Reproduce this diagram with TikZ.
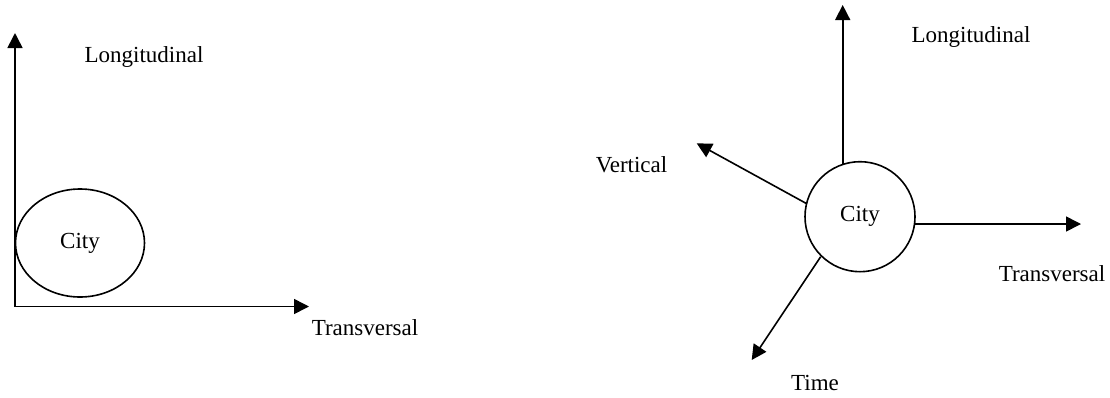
\documentclass[tikz,border=0pt]{standalone}
\usepackage{fontspec}
\setmainfont{Liberation Serif}
\usetikzlibrary{arrows.meta,shapes.geometric}
\begin{document}
\begin{tikzpicture}[x=1pt,y=-1pt,
  axis/.style={line width=1.6pt,-{Triangle[length=15pt,width=15pt]}},
  lbl/.style={inner sep=0pt,font=\fontsize{23}{27}\selectfont},
  city/.style={draw,line width=1.6pt,inner sep=0pt}]
\useasboundingbox (0,0) rectangle (1110,397);
% left diagram
\coordinate (O) at (15,306.5);
\coordinate (Ltop) at (15,33);
\coordinate (Lright) at (309,306.5);
\draw[axis] (O) -- (Ltop);
\draw[axis] (O) -- (Lright);
\node[city,ellipse,minimum width=129pt,minimum height=108pt] (c1) at (80,243) {};
\node[lbl] (t1) at (c1.center) {City};
\node[lbl] (l1) at (144,57) {Longitudinal};
\node[lbl] (tr1) at (365,328) {Transversal};
% right diagram
\node[city,circle,minimum size=110pt] (c2) at (860,216.7) {};
\node[lbl] (t2) at (c2.center) {City};
\coordinate (Rtop) at (842.7,5);
\coordinate (Rright) at (1081,224);
\coordinate (Rvert) at (696.7,143.3);
\coordinate (Rtime) at (751.7,360);
\draw[axis] (842.7,164.4) -- (Rtop);
\draw[axis] (915,224) -- (Rright);
\draw[axis] (806,203.3) -- (Rvert);
\draw[axis] (820.7,256.7) -- (Rtime);
\node[lbl] (l2) at (971,37) {Longitudinal};
\node[lbl] (v2) at (631.5,165) {Vertical};
\node[lbl] (tr2) at (1052,274) {Transversal};
\node[lbl] (tm2) at (815,383) {Time};
\end{tikzpicture}
\end{document}
